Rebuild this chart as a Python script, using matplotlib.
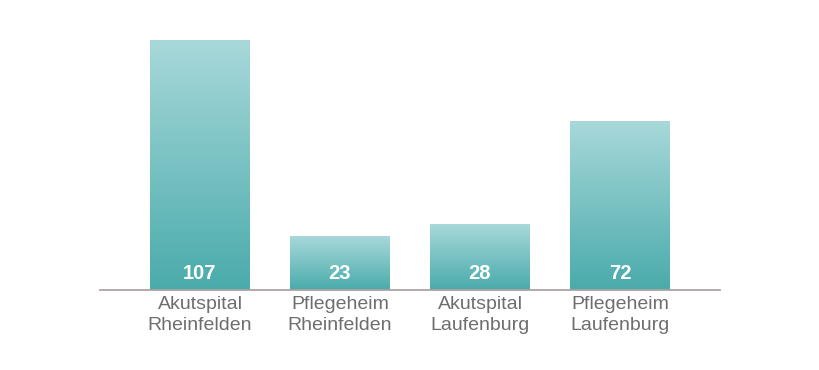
import numpy as np
import matplotlib
matplotlib.use("Agg")
import matplotlib.pyplot as plt
from matplotlib.colors import LinearSegmentedColormap

categories = ["Akutspital\nRheinfelden", "Pflegeheim\nRheinfelden",
              "Akutspital\nLaufenburg", "Pflegeheim\nLaufenburg"]
values = [107, 23, 28, 72]

top_color = "#a8d8da"
bottom_color = "#4aabab"
cmap = LinearSegmentedColormap.from_list("bar", [bottom_color, top_color])

fig = plt.figure(figsize=(8.2, 3.7), dpi=100)
ax = fig.add_axes([100/820, 1-290/370, 620/820, 250/370])

width = 100/140
x = np.arange(len(values))
grad = np.linspace(0, 1, 256).reshape(-1, 1)
for xi, v in zip(x, values):
    ax.imshow(grad, extent=[xi-width/2, xi+width/2, 0, v], origin="lower",
              cmap=cmap, aspect="auto", interpolation="bicubic", zorder=2)
    ax.text(xi, 7.0, str(v), ha="center", va="center", color="white",
            fontsize=14.5, fontweight="bold", family="Liberation Sans", zorder=3)

ax.set_xlim(-width, len(values)-1+width)
ax.set_ylim(0, max(values))
for s in ["top", "right", "left"]:
    ax.spines[s].set_visible(False)
ax.spines["bottom"].set_color("#aaa5a3")
ax.spines["bottom"].set_linewidth(1.3)
ax.set_yticks([])
ax.set_xticks(x)
ax.set_xticklabels(categories, fontsize=14, color="#6e6e6e",
                   family="Liberation Sans", linespacing=1.35)
ax.tick_params(axis="x", length=0, pad=4)

fig.savefig("out.png", dpi=100)
